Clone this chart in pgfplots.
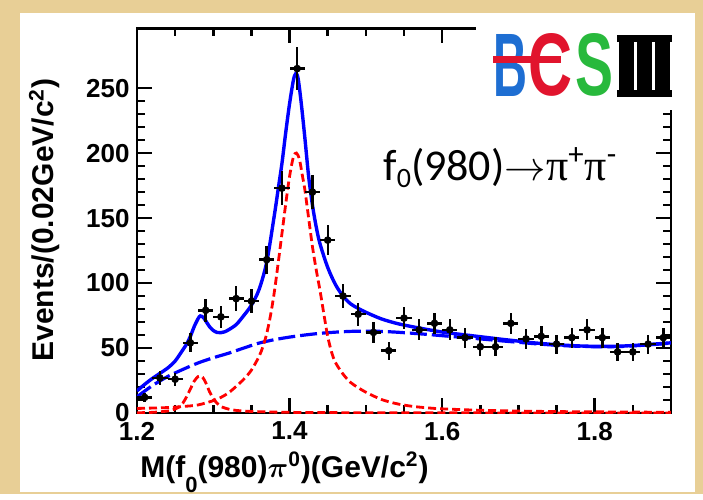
\documentclass[border=0pt]{standalone}
\usepackage{fontspec}
\setmainfont{Liberation Sans}
\newfontfamily\annfont{Carlito}
\newfontfamily\pifont{Liberation Serif}
\usepackage{graphicx}
\usepackage{pgfplots}
\pgfplotsset{compat=1.18}
\usepackage{pgfplotstable}

\definecolor{parchment}{RGB}{232,207,150}
\definecolor{rootblue}{RGB}{0,0,255}
\definecolor{rootred}{RGB}{255,0,0}
\definecolor{besblue}{RGB}{30,110,210}
\definecolor{besred}{RGB}{225,20,45}
\definecolor{besgreen}{RGB}{40,185,60}

% data: bin centre, events, half bin width, sqrt(N)
\pgfplotstableread{
x    y   ex    ey
1.21 12  0.01  3.46
1.23 27  0.01  5.20
1.25 26  0.01  5.10
1.27 54  0.01  7.35
1.29 79  0.01  8.89
1.31 74  0.01  8.60
1.33 88  0.01  9.38
1.35 86  0.01  9.27
1.37 118 0.01 10.86
1.39 173 0.01 13.15
1.41 265 0.01 16.28
1.43 170 0.01 13.04
1.45 133 0.01 11.53
1.47 90  0.01  9.49
1.49 76  0.01  8.72
1.51 62  0.01  7.87
1.53 48  0.01  6.93
1.55 73  0.01  8.54
1.57 64  0.01  8.00
1.59 69  0.01  8.31
1.61 64  0.01  8.00
1.63 58  0.01  7.62
1.65 51  0.01  7.14
1.67 51  0.01  7.14
1.69 69  0.01  8.31
1.71 57  0.01  7.55
1.73 59  0.01  7.68
1.75 53  0.01  7.28
1.77 58  0.01  7.62
1.79 64  0.01  8.00
1.81 58  0.01  7.62
1.83 47  0.01  6.86
1.85 47  0.01  6.86
1.87 53  0.01  7.28
1.89 58  0.01  7.62
}\datatable

\begin{document}
\begin{tikzpicture}
\fill[parchment] (-68.5pt,-40.5pt) rectangle (283pt,206.5pt);
\fill[white] (-58.5pt,-39.5pt) rectangle (279pt,200pt);
\begin{axis}[
  at={(0,0)}, anchor=south west,
  scale only axis,
  width=267pt, height=192.35pt,
  xmin=1.2, xmax=1.9, ymin=0, ymax=296,
  axis line style={line width=1.4pt},
  xtick={1.2,1.4,1.6,1.8},
  minor xtick={1.25,1.3,1.35,1.45,1.5,1.55,1.65,1.7,1.75,1.85},
  ytick={0,50,100,150,200,250},
  minor y tick num=4,
  tick align=inside,
  major tick length=7.5pt, minor tick length=4pt,
  tick style={line width=1.3pt, black},
  /pgf/number format/assume math mode=true,
  tick label style={font=\fontsize{13}{13}\selectfont\bfseries, inner sep=0pt},
  yticklabel style={anchor=east, xshift=-3.5pt},
  xticklabel style={anchor=north, yshift=-4.3pt},
]
\addplot[rootblue, line width=1.6pt, dash pattern=on 8.5pt off 2.5pt, smooth] coordinates {
(1.20,12.5)(1.22,21)(1.24,28)(1.26,33.5)(1.28,38.5)(1.30,42.5)(1.32,46)(1.34,50)
(1.36,53.8)(1.38,56.4)(1.40,58.4)(1.42,60)(1.44,61.3)(1.46,62.2)(1.48,62.8)(1.50,63)
(1.52,62.8)(1.54,62.2)(1.56,61.4)(1.58,60.5)(1.60,59.5)(1.62,58.5)(1.64,57.5)(1.66,56.5)
(1.68,55.4)(1.70,54.4)(1.72,53.4)(1.74,52.5)(1.76,51.8)(1.78,51.3)(1.80,51)(1.82,51)
(1.84,51.3)(1.86,52)(1.88,52.8)(1.90,53.8)};
\addplot[rootred, line width=1.4pt, dash pattern=on 4pt off 2pt, smooth] coordinates {
(1.20,3.5)(1.22,3.8)(1.24,4.2)(1.26,5)(1.28,6.2)(1.30,9.5)(1.31,12)(1.32,15.5)(1.33,20.5)
(1.34,26)(1.35,33)(1.36,43.5)(1.365,51)(1.37,61)(1.375,75)(1.38,93)(1.385,115)(1.39,138)
(1.395,161)(1.40,182)(1.405,197)(1.409,200)(1.413,195)(1.417,182)(1.42,172)(1.425,150)
(1.43,128)(1.435,110)(1.44,94)(1.445,76)(1.45,59)(1.455,47)(1.46,39)(1.47,30)(1.48,23.5)
(1.49,19.5)(1.50,16)(1.52,10.5)(1.54,7.2)(1.56,5.2)(1.58,4)(1.60,3.2)(1.65,2.1)(1.70,1.5)
(1.75,1.1)(1.80,0.9)(1.85,0.7)(1.90,0.6)};
\addplot[rootred, line width=1.4pt, dash pattern=on 4pt off 2pt, smooth] coordinates {
(1.20,0.2)(1.22,0.5)(1.24,1.5)(1.25,3)(1.255,4.5)(1.26,7.5)(1.265,12.5)(1.27,18.5)
(1.275,24.5)(1.28,28)(1.283,28.5)(1.286,27.5)(1.29,23.5)(1.295,16.5)(1.30,11)(1.305,7.5)
(1.31,5)(1.32,3)(1.33,2)(1.35,1.2)(1.40,0.5)(1.50,0.2)(1.60,0.1)(1.90,0)};
\addplot[rootblue, line width=1.7pt, smooth] coordinates {
(1.20,17)(1.21,22)(1.22,26.5)(1.23,30.5)(1.24,34.5)(1.25,40)(1.26,48.5)(1.265,53)(1.27,59)
(1.275,66.5)(1.28,72.5)(1.283,74.7)(1.287,73.5)(1.29,71)(1.295,66.5)(1.30,63.5)(1.305,62)
(1.31,61.8)(1.315,62.5)(1.32,64)(1.33,68)(1.34,75)(1.35,83)(1.36,95)(1.37,116)(1.38,152)
(1.385,172)(1.39,192)(1.395,216)(1.40,238)(1.405,256)(1.408,261)(1.411,258)(1.415,240)
(1.42,212)(1.425,182)(1.43,160)(1.435,143)(1.44,130)(1.45,112)(1.46,99)(1.47,90)(1.48,84)
(1.49,80.5)(1.50,77.5)(1.52,72.5)(1.54,69)(1.56,66.5)(1.58,64.3)(1.60,62.3)(1.62,60.8)
(1.64,59.4)(1.66,58)(1.68,56.6)(1.70,55.3)(1.72,54)(1.74,53)(1.76,52.2)(1.78,51.6)
(1.80,51.3)(1.82,51.3)(1.84,51.6)(1.86,52.3)(1.88,53.1)(1.90,54)};
\addplot[black, only marks, mark=*, mark size=1.7pt, mark options={fill=black, draw=black},
  error bars/.cd, x dir=both, x explicit, y dir=both, y explicit,
  error bar style={line width=1.2pt, black}, error mark=none]
  table[x=x, y=y, x error=ex, y error=ey] {\datatable};
\end{axis}
% logo patch covering the top right corner of the frame
\fill[white] (169.5pt,151.5pt) rectangle (278pt,199pt);
\node[anchor=south west, inner sep=0pt, besblue] at (178pt,158pt) {\resizebox{17pt}{31pt}{\bfseries B}};
\node[anchor=south west, inner sep=0pt, besred] at (195.5pt,158pt) {\resizebox{22pt}{31pt}{\bfseries C}};
\fill[besred] (178pt,175pt) rectangle (212pt,178.3pt);
\node[anchor=south west, inner sep=0pt, besgreen] at (219pt,158pt) {\resizebox{19pt}{31pt}{\bfseries S}};
\fill[black] (240pt,158pt) rectangle (267.5pt,161.5pt);
\fill[black] (240pt,185.5pt) rectangle (267.5pt,189pt);
\fill[black] (241pt,158pt) rectangle (248.5pt,189pt);
\fill[black] (250.2pt,158pt) rectangle (257.3pt,189pt);
\fill[black] (259pt,158pt) rectangle (266.5pt,189pt);
% annotation
\node[anchor=base west, inner sep=0pt, font=\annfont\fontsize{22}{22}\selectfont] at (123pt,116.5pt)
  {f\raisebox{-3.5pt}{\fontsize{14}{14}\selectfont 0}(980)$\rightarrow${\pifont π}\textsuperscript{+}{\pifont π}\textsuperscript{-}};
% axis titles
\node[rotate=90, anchor=base, font=\fontsize{15}{15}\selectfont\bfseries] at (-41.5pt,96.5pt)
  {Events/(0.02GeV/c\textsuperscript{2})};
\node[anchor=base, font=\fontsize{15}{15}\selectfont\bfseries] at (73.75pt,-32pt)
  {M(f\raisebox{-7.8pt}{\fontsize{11}{11}\selectfont 0}(980){\boldmath$\pi$}\textsuperscript{0})(GeV/c\textsuperscript{2})};
\end{tikzpicture}
\end{document}
